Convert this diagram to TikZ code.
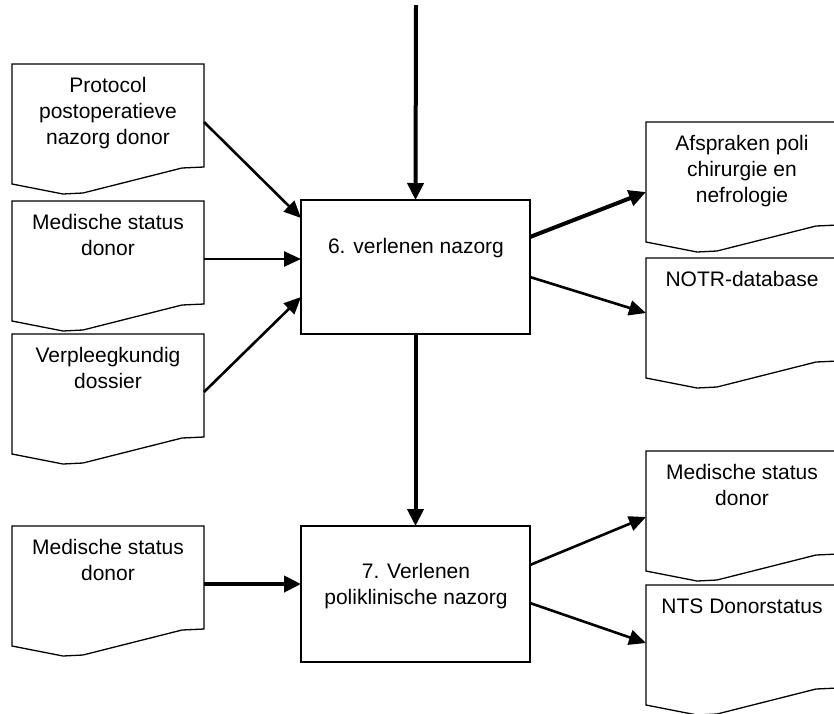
\documentclass[tikz,border=0pt]{standalone}
\usepackage{fontspec}
\setmainfont{Liberation Sans}
\usetikzlibrary{arrows.meta,calc}
\tikzset{
 docarea/.style={draw=none, minimum width=192pt, minimum height=116pt, inner sep=0pt, outer sep=0pt},
 docline/.style={line width=1.3pt, line join=miter},
 proc/.style={draw, line width=1.3pt, minimum width=229pt, inner sep=0pt, outer sep=0pt},
 lbl/.style={anchor=base, inner sep=0pt, font=\fontsize{21}{26}\selectfont},
 arr/.style={line width=2.6pt, -{Triangle[length=17pt,width=15pt]}},
 tarr/.style={line width=4pt, -{Triangle[length=17pt,width=16pt]}},
}
\newcommand\mylines[1]{\begin{tabular}[t]{@{}c@{}}#1\end{tabular}}
\newcommand\docnode[4]{%
  \node[docarea] (#1) at (#2+96,#3+58) {};
  \draw[docline] (#1.north west) -- (#1.north east) -- ++(0,103) -- ++(-22,1) -- ++(-99,25) -- ++(-20,1) -- ++(-51,-10) -- cycle;
  \node[lbl] (#1t) at (#2+96,#3+28) {\mylines{#4}};
}
\begin{document}
\begin{tikzpicture}[x=1pt,y=-1pt]
\useasboundingbox (0,0) rectangle (834,713);
\clip (0,0) rectangle (834,713);
\docnode{d1}{12}{64}{Protocol\\postoperatieve\\nazorg donor}
\docnode{d2}{12}{201}{Medische status\\donor}
\docnode{d3}{12}{334}{Verpleegkundig\\dossier}
\docnode{d4}{12}{526}{Medische status\\donor}
\docnode{e1}{646}{122}{Afspraken poli\\chirurgie en\\nefrologie}
\docnode{e2}{646}{258}{NOTR-database}
\docnode{e3}{646}{451}{Medische status\\donor}
\docnode{e4}{646}{585}{NTS Donorstatus}
\node[proc, minimum height=134pt] (b6) at (415.5,267) {};
\node[proc, minimum height=136pt] (b7) at (415.5,594) {};
\node[lbl] (b6t) at (416,253) {\mylines{6. verlenen nazorg}};
\node[lbl] (b7t) at (416,578) {\mylines{7. Verlenen\\poliklinische nazorg}};
\coordinate (src) at (416,5);
\draw[tarr] (src) -- (b6.north);
\draw[arr] (d1.east) -- ($(b6.north west)+(0,18)$);
\draw[arr] (d2.east) -- (d2.east -| b6.west);
\draw[arr] (d3.east) -- ($(b6.north west)+(0,97)$);
\draw[tarr] ($(b6.north east)+(0,37)$) -- ($(e1.north west)+(0,70)$);
\draw[arr] ($(b6.north east)+(0,77)$) -- ($(e2.north west)+(0,55)$);
\draw[tarr] (b6.south) -- (b7.north);
\draw[tarr] (d4.east) -- (d4.east -| b7.west);
\draw[arr] ($(b7.north east)+(0,39)$) -- ($(e3.north west)+(0,66)$);
\draw[arr] ($(b7.north east)+(0,77)$) -- ($(e4.north west)+(0,58)$);
\end{tikzpicture}
\end{document}
